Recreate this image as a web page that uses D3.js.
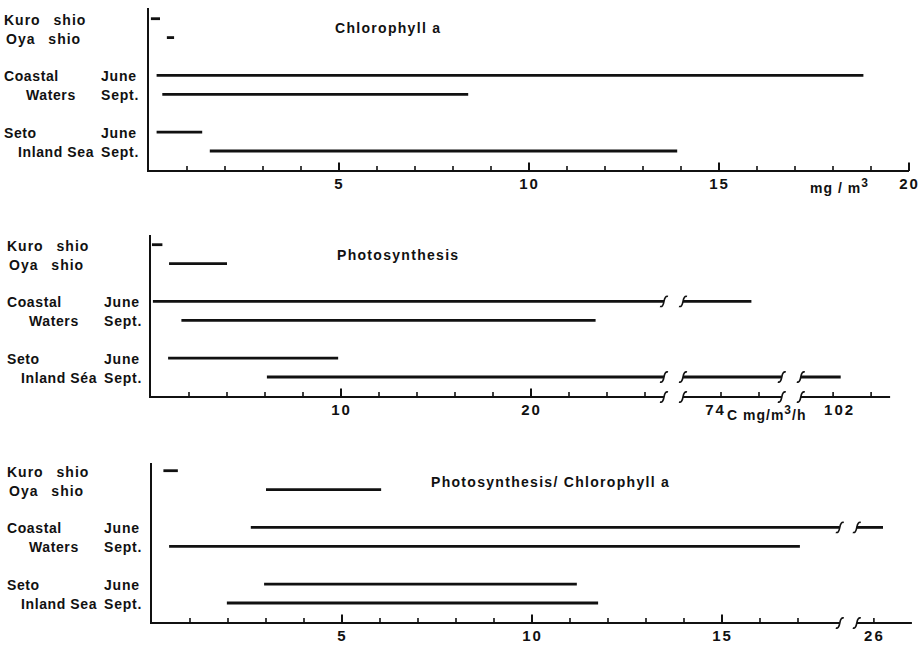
<!DOCTYPE html>
<html>
<head>
<meta charset="utf-8">
<script src="https://cdn.jsdelivr.net/npm/d3@7"></script>
<style>
  body { margin: 0; background: #fff; }
  text { font-family: "Liberation Sans", Arial, sans-serif; font-weight: bold; fill: #111; }
</style>
</head>
<body>
<div id="chart"></div>
<script>
const width = 922;
const height = 648;

// row labels (left column) and month labels
const rowLabels = ["Kuro shio", "Oya shio", "Coastal", "Waters", "Seto", "Inland Sea"];
const rowLabelsPhoto = ["Kuro shio", "Oya shio", "Coastal", "Waters", "Seto", "Inland Séa"];
const monthLabels = ["", "", "June", "Sept.", "June", "Sept."];
const rowSlots = [0, 1, 3, 4, 6, 7];

// Chlorophyll a, mg/m3
const chlLow  = [0.05, 0.47, 0.2, 0.35, 0.2, 1.6];
const chlHigh = [0.29, 0.66, 18.8, 8.4, 1.4, 13.9];
const chlPieces = [[0, 20]];
const chlMinor = [1,2,3,4,6,7,8,9,11,12,13,14,16,17,18,19];
const chlMajor = [5, 10, 15, 20];
const chlLabels = [5, 10, 15, 20];

// Photosynthesis, mgC/m3/h (broken axis)
const photoLow  = [0.05, 0.95, 0.1, 1.6, 0.9, 6.1];
const photoHigh = [0.6, 4.0, 75.6, 23.4, 9.85, 102.4];
const photoPieces = [[0, 27], [72, 77.2], [100.3, 105]];
const photoMinor = [2,4,6,8,12,14,16,18,22,24,26,74,76,102,104];
const photoMajor = [10, 20];
const photoLabels = [10, 20, 74, 102];

// Photosynthesis / Chlorophyll a (broken axis)
const ratioLow  = [0.3, 3.0, 2.6, 0.45, 2.95, 1.97];
const ratioHigh = [0.68, 6.03, 26.24, 17.05, 11.18, 11.74];
const ratioPieces = [[0, 18.1], [25.55, 27]];
const ratioMinor = [1,2,3,4,6,7,8,9,11,12,13,14,16,17,26];
const ratioMajor = [5, 10, 15];
const ratioLabels = [5, 10, 15, 26];

const panels = [
  { title: "Chlorophyll a", titleX: 335, titleY: 33, axisY: 171, top: 8, x0: 149, unit: 38, gap: 0,
    labels: rowLabels, low: chlLow, high: chlHigh, pieces: chlPieces,
    minor: chlMinor, major: chlMajor, tickLabels: chlLabels },
  { title: "Photosynthesis", titleX: 337, titleY: 260, axisY: 397, top: 235, x0: 151, unit: 19, gap: 19,
    labels: rowLabelsPhoto, low: photoLow, high: photoHigh, pieces: photoPieces,
    minor: photoMinor, major: photoMajor, tickLabels: photoLabels },
  { title: "Photosynthesis/ Chlorophyll a", titleX: 431, titleY: 487, axisY: 623, top: 463, x0: 152, unit: 38, gap: 17,
    labels: rowLabels, low: ratioLow, high: ratioHigh, pieces: ratioPieces,
    minor: ratioMinor, major: ratioMajor, tickLabels: ratioLabels }
];

const svg = d3.select("#chart")
  .append("svg")
  .attr("width", width)
  .attr("height", height);

function makeScale(p) {
  const dom = [], rng = [];
  let x = p.x0;
  p.pieces.forEach((pc, i) => {
    if (i > 0) x += p.gap;
    const x1 = x + (pc[1] - pc[0]) * p.unit;
    dom.push(pc[0], pc[1]);
    rng.push(x, x1);
    x = x1;
  });
  return d3.scaleLinear().domain(dom).range(rng);
}

// small "integral" squiggle used for axis breaks
function breakMark(g, x, y) {
  g.append("path")
    .attr("d", `M${x-4},${y+5} Q${x-1},${y+6} ${x},${y} Q${x+1},${y-6} ${x+4},${y-5}`)
    .attr("fill", "none")
    .attr("stroke", "#111")
    .attr("stroke-width", 1.6);
}

panels.forEach(p => {
  const g = svg.append("g");
  const x = makeScale(p);
  const y = d3.scaleLinear().domain([7, 0]).range([p.axisY - 20, p.axisY - 20 - 7 * 18.9]);
  const shift = p === panels[0] ? 0 : 3;

  // left axis
  g.append("line")
    .attr("x1", p.x0 - 1).attr("x2", p.x0 - 1)
    .attr("y1", p.top).attr("y2", p.axisY)
    .attr("stroke", "#111").attr("stroke-width", 2);

  // bottom axis, one line per piece, breaks between
  p.pieces.forEach((pc, i) => {
    g.append("line")
      .attr("x1", i === 0 ? p.x0 - 2 : x(pc[0]))
      .attr("x2", x(pc[1]))
      .attr("y1", p.axisY).attr("y2", p.axisY)
      .attr("stroke", "#111").attr("stroke-width", 1.8);
    if (i > 0) breakMark(g, x(pc[0]), p.axisY);
    if (i < p.pieces.length - 1) breakMark(g, x(pc[1]), p.axisY);
  });

  // ticks pointing up from the axis
  g.selectAll(".minor")
    .data(p.minor)
    .join("line")
    .attr("class", "minor")
    .attr("x1", d => x(d)).attr("x2", d => x(d))
    .attr("y1", p.axisY).attr("y2", p.axisY - 5)
    .attr("stroke", "#111").attr("stroke-width", 1.6);
  g.selectAll(".major")
    .data(p.major)
    .join("line")
    .attr("class", "major")
    .attr("x1", d => x(d)).attr("x2", d => x(d))
    .attr("y1", p.axisY).attr("y2", p.axisY - 8.5)
    .attr("stroke", "#111").attr("stroke-width", 2);

  const axisG = g.append("g").attr("transform", `translate(0,${p.axisY})`);
  axisG.append("g")
    .call(d3.axisBottom(x).tickValues(p.tickLabels).tickSize(0).tickPadding(7).tickFormat(d3.format("d")))
    .call(a => a.select(".domain").remove())
    .call(a => a.selectAll("text")
      .attr("fill", "#111")
      .attr("dx", d => d === 74 ? -6 : d === 102 ? 6 : 0)
      .style("font-size", "15px")
      .style("letter-spacing", "2px")
      .style("font-family", "\"Liberation Sans\", Arial, sans-serif")
      .style("font-weight", "bold"));

  // range bars
  p.low.forEach((lo, r) => {
    const hi = p.high[r];
    const yy = y(rowSlots[r]);
    p.pieces.forEach((pc, i) => {
      const a = Math.max(lo, pc[0]);
      const b = Math.min(hi, pc[1]);
      if (b <= a) return;
      g.append("line")
        .attr("x1", x(a)).attr("x2", x(b))
        .attr("y1", yy).attr("y2", yy)
        .attr("stroke", "#111").attr("stroke-width", 2.8);
      if (hi > pc[1]) breakMark(g, x(pc[1]), yy);
      if (lo < pc[0]) breakMark(g, x(pc[0]), yy);
    });
  });

  // row labels
  p.labels.forEach((lab, r) => {
    const yy = y(rowSlots[r]) + 6;
    const indent = [0, 2, 0, 22, 0, 14][r];
    g.append("text")
      .attr("x", 4 + indent + shift)
      .attr("y", yy)
      .style("font-size", "14px")
      .style("letter-spacing", r < 2 ? "1px" : "0.6px")
      .style("word-spacing", r < 2 ? "8px" : "0px")
      .text(lab);
    if (monthLabels[r]) {
      g.append("text")
        .attr("x", 101 + shift)
        .attr("y", yy)
        .style("font-size", "14px")
        .style("letter-spacing", "0.8px")
        .text(monthLabels[r]);
    }
  });

  g.append("text")
    .attr("x", p.titleX).attr("y", p.titleY)
    .style("font-size", "14px")
    .style("letter-spacing", "1.3px")
    .text(p.title);
});

// unit labels
const u1 = svg.append("text").attr("x", 810).attr("y", 193)
  .style("font-size", "14px").style("letter-spacing", "1px");
u1.append("tspan").text("mg / m");
u1.append("tspan").attr("dy", -6).style("font-size", "12px").text("3");

const u2 = svg.append("text").attr("x", 727).attr("y", 420)
  .style("font-size", "14px").style("letter-spacing", "1px");
u2.append("tspan").text("C mg/m");
u2.append("tspan").attr("dy", -6).style("font-size", "12px").text("3");
u2.append("tspan").attr("dy", 6).text("/h");
</script>
</body>
</html>
